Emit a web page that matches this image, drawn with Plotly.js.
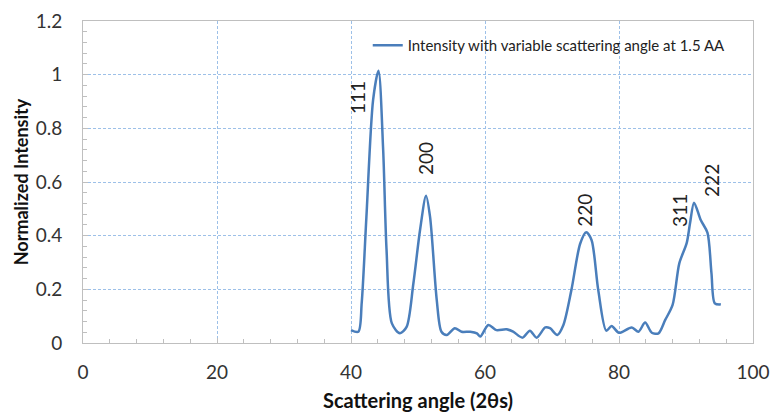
<!DOCTYPE html>
<html>
<head>
<meta charset="utf-8">
<script src="https://cdn.plot.ly/plotly-3.0.1.min.js"></script>
<style>html,body{margin:0;padding:0;background:#fff;}#chart{width:775px;height:412px;}</style>
</head>
<body>
<div id="chart"></div>
<script>
// Scattering angle (2θ) values
const angle = [40.0, 41.1, 41.6, 42.3, 43.3, 44.1, 44.8, 45.3, 46.1, 47.3, 48.3, 49.3, 50.3, 51.2, 51.8, 52.8, 53.5, 54.3, 55.5, 56.5, 57.8, 58.8, 59.3, 60.5, 61.7, 63.2, 64.2, 65.6, 66.7, 67.7, 69.0, 69.7, 70.8, 71.7, 72.9, 74.2, 75.1, 75.9, 76.9, 78.1, 78.9, 80.0, 81.9, 82.9, 83.9, 84.9, 85.9, 86.9, 88.0, 89.0, 90.1, 90.6, 91.2, 92.2, 93.2, 93.8, 94.3, 95.2];
// Normalized intensity values
const intensity = [0.048, 0.042, 0.15, 0.47, 0.906, 1.015, 0.72, 0.35, 0.073, 0.036, 0.06, 0.22, 0.42, 0.549, 0.47, 0.16, 0.042, 0.03, 0.055, 0.042, 0.042, 0.036, 0.024, 0.067, 0.048, 0.051, 0.042, 0.02, 0.046, 0.02, 0.058, 0.055, 0.03, 0.067, 0.198, 0.37, 0.413, 0.384, 0.198, 0.046, 0.063, 0.038, 0.058, 0.042, 0.076, 0.038, 0.036, 0.086, 0.142, 0.297, 0.372, 0.446, 0.523, 0.458, 0.411, 0.26, 0.148, 0.144];
// Peak labels (Miller indices)
const peakLabels = ["111", "200", "220", "311", "222"];
const peakLabelX = [40.9, 51.2, 74.9, 89.1, 93.7];
const peakLabelY = [0.913, 0.686, 0.496, 0.496, 0.607];
const xTicks = [0, 20, 40, 60, 80, 100];
const yTicks = [0, 0.2, 0.4, 0.6, 0.8, 1, 1.2];
const seriesName = "Intensity with variable scattering angle at 1.5 AA";

const FONT = "Lato, 'Open Sans', 'DejaVu Sans', sans-serif";
const trace = {
  x: angle, y: intensity, type: 'scatter', mode: 'lines',
  line: {color: '#4A7EBB', width: 2.5, shape: 'spline', smoothing: 0.8},
  name: seriesName, showlegend: true
};
const annotations = peakLabels.map((t, i) => ({
  x: peakLabelX[i], y: peakLabelY[i], xref: 'x', yref: 'y', text: t,
  showarrow: false, textangle: -90,
  font: {family: FONT, size: 19, color: '#222'}
}));
const axisCommon = {
  showline: true, linecolor: '#BFBFBF', linewidth: 1, mirror: true,
  ticks: 'inside', ticklen: 5, tickcolor: '#BFBFBF', tickwidth: 1,
  showgrid: true, gridcolor: '#9DC0E8', griddash: '3px,2px', gridwidth: 1,
  zeroline: false,
  tickfont: {family: FONT, size: 19, color: '#333'}
};
const layout = {
  width: 775, height: 412,
  margin: {l: 83, r: 22, t: 21, b: 69},
  paper_bgcolor: '#fff', plot_bgcolor: '#fff',
  xaxis: Object.assign({}, axisCommon, {
    range: [0, 100], tickmode: 'array', tickvals: xTicks, ticktext: xTicks.map(String),
    ticklabelstandoff: 12,
    minor: {ticks: 'inside', dtick: 4, tick0: 0, ticklen: 4, tickcolor: '#BFBFBF', showgrid: false},
    title: {text: '<b>Scattering angle (2θs)</b>', font: {family: FONT, size: 20, color: '#111'}, standoff: 14}
  }),
  yaxis: Object.assign({}, axisCommon, {
    range: [0, 1.2], tickmode: 'array', tickvals: yTicks, ticktext: yTicks.map(String),
    ticklabelstandoff: 16,
    minor: {ticks: 'inside', dtick: 0.04, tick0: 0, ticklen: 4, tickcolor: '#BFBFBF', showgrid: false},
    title: {text: '<b>Normalized Intensity</b>', font: {family: FONT, size: 18, color: '#111'}, standoff: 2}
  }),
  showlegend: true,
  legend: {
    x: 0.425, y: 0.975, xanchor: 'left', yanchor: 'top',
    bgcolor: 'rgba(0,0,0,0)', borderwidth: 0, itemwidth: 30,
    font: {family: FONT, size: 15, color: '#222'}
  },
  annotations: annotations
};
Plotly.newPlot('chart', [trace], layout, {displayModeBar: false, staticPlot: true});
</script>
</body>
</html>
